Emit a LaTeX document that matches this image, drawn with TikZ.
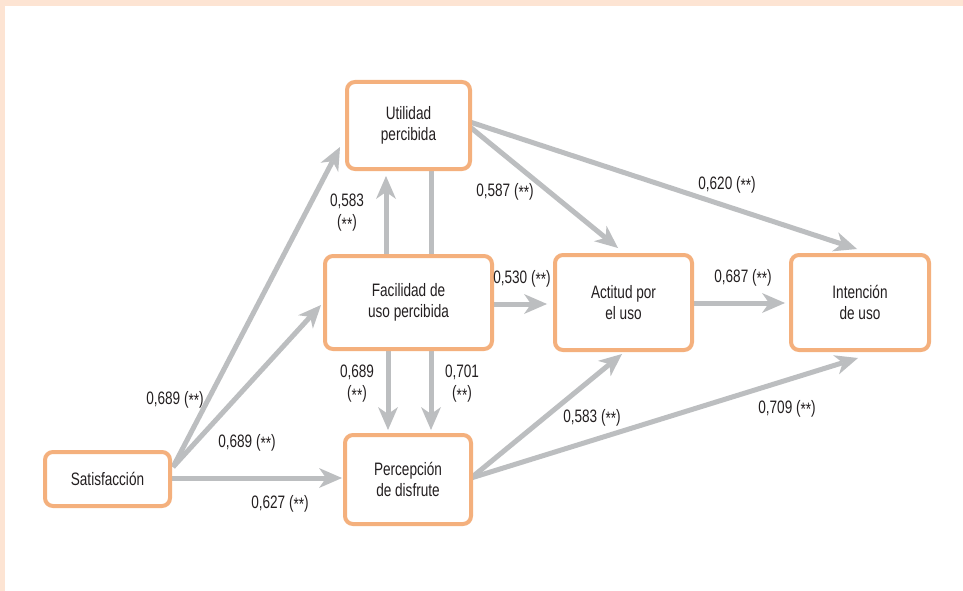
\documentclass[tikz,border=0pt]{standalone}
\usepackage{fontspec}
\setmainfont{Liberation Sans}[FakeStretch=0.755]
\usetikzlibrary{arrows.meta,backgrounds,calc}
\definecolor{peach}{HTML}{FDE4D3}
\definecolor{boxline}{HTML}{F4B07D}
\definecolor{arrowgray}{HTML}{BCBEC0}
\definecolor{txt}{HTML}{231F20}
\newcommand{\sig}{(\raisebox{-0.12em}{**})}
\begin{document}
\begin{tikzpicture}[x=1pt,y=-1pt,
  box/.style={draw=boxline, line width=4pt, fill=white, rounded corners=8pt, align=center,
    text=txt, inner sep=0pt, outer sep=0pt, font=\fontsize{18}{20.5}\selectfont},
  lbl/.style={text=txt, align=center, inner sep=0pt, font=\fontsize{18}{21}\selectfont},
  conn/.style={draw=arrowgray, line width=5pt,
    -{Stealth[length=23pt,width=20pt,inset=7pt,line width=0pt]}}
]
\useasboundingbox (0,0) rectangle (963,591);
% nodes
\node[box, minimum width=123pt, minimum height=87pt] (util) at (408.5,125.5) {Utilidad\\percibida};
\node[box, minimum width=167pt, minimum height=93pt] (facil) at (408.5,302.5) {Facilidad de\\uso percibida};
\node[box, minimum width=137pt, minimum height=95pt] (acti) at (623.5,302.5) {Actitud por\\el uso};
\node[box, minimum width=138pt, minimum height=95pt] (inten) at (860,302.5) {Intención\\de uso};
\node[box, minimum width=126pt, minimum height=89pt] (perc) at (408,479.5) {Percepción\\de disfrute};
\node[box, minimum width=125pt, minimum height=54pt] (satis) at (107.5,479) {Satisfacción};
% labels
\node[lbl] (l1) at (347,213) {0,583\\\sig};
\node[lbl] (l2) at (505,192) {0,587 \sig};
\node[lbl] (l3) at (727,185) {0,620 \sig};
\node[lbl] (l4) at (522,279) {0,530 \sig};
\node[lbl] (l5) at (743,278) {0,687 \sig};
\node[lbl] (l6) at (357,384) {0,689\\\sig};
\node[lbl] (l7) at (462,384) {0,701\\\sig};
\node[lbl] (l8) at (592,418) {0,583 \sig};
\node[lbl] (l9) at (787,409) {0,709 \sig};
\node[lbl] (l10) at (175,400) {0,689 \sig};
\node[lbl] (l11) at (247,443) {0,689 \sig};
\node[lbl] (l12) at (280,504) {0,627 \sig};
% background and connectors
\begin{scope}[on background layer]
\fill[peach] (0,0) rectangle (963,591);
\fill[white] (5,6) rectangle (963,591);
\draw[conn] ($(satis.east)+(3,-12)$) -- ($(util.south west)+(-7,-22)$);
\draw[conn] ($(satis.east)+(3,-12)$) -- ($(facil.west)+(-4,2.5)$);
\draw[conn, shorten >=3pt] ($(satis.east)+(0,-1)$) -- ($(perc.west)+(0,-1.5)$);
\draw[conn] ($(facil.north)+(-22.5,0)$) -- ($(util.south)+(-22.5,7)$);
\draw[conn] ($(util.south)+(22.5,0)$) -- ($(perc.north)+(23,-5)$);
\draw[conn] ($(facil.south)+(-20.5,0)$) -- ($(perc.north)+(-20,-5)$);
\draw[conn] ($(util.east)+(0,1.5)$) -- ($(acti.north)+(-5.5,-7)$);
\draw[conn] ($(util.east)+(0,-3.5)$) -- ($(inten.north)+(-3,-6)$);
\draw[conn, shorten >=8pt] ($(facil.east)+(0,1.5)$) -- ($(acti.west)+(0,1.5)$);
\draw[conn, shorten >=6pt] ($(acti.east)+(0,0.5)$) -- ($(inten.west)+(0,0.5)$);
\draw[conn] ($(perc.east)+(0,-1.5)$) -- ($(acti.south)+(-1.5,4)$);
\draw[conn] ($(perc.east)+(0,-1.5)$) -- ($(inten.south)+(-2,8)$);
\end{scope}
\end{tikzpicture}
\end{document}
